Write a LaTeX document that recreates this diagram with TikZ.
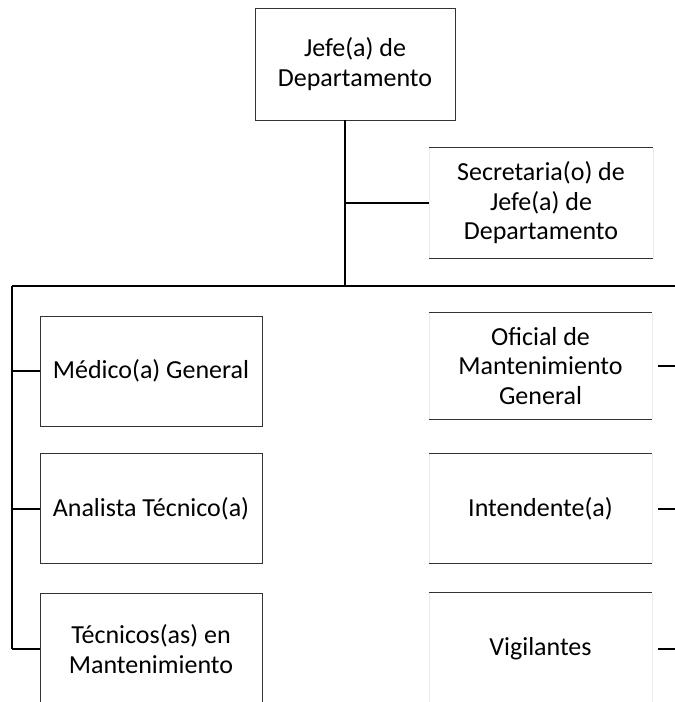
\documentclass[tikz,border=0pt]{standalone}
\usepackage{fontspec}
\setmainfont{Carlito}
\begin{document}
\begin{tikzpicture}[x=1pt,y=-1pt,
  lbl/.style={font=\fontsize{26}{29.5}\selectfont, align=center, inner sep=0pt},
  fullbox/.style={lbl, draw=black!80, line width=0.9pt, minimum width=222pt, minimum height=110pt},
  openbox/.style={lbl, minimum width=223pt, minimum height=106pt},
  faint/.style={draw=black!8, line width=0.4pt},
  edge/.style={draw=black!80, line width=0.9pt},
  conn/.style={draw=black, line width=2pt}]
\useasboundingbox (0,0) rectangle (675,702);
\clip (0,0) rectangle (675,702);
\fill[white] (0,0) rectangle (675,702);

% boxes
\node[fullbox, minimum width=200pt, minimum height=112pt] (jefe) at (355,64) {Jefe(a) de\\Departamento};
\node[openbox, minimum height=110pt] (sec) at (541,203) {Secretaria(o) de\\Jefe(a) de\\Departamento};

\node[fullbox] (med) at (151,371) {Médico(a) General};
\node[fullbox] (ana) at (151,508.5) {Analista Técnico(a)};
\node[fullbox, minimum height=112pt] (tec) at (151,649) {Técnicos(as) en\\Mantenimiento};

\node[openbox] (ofi) at (540.5,366) {Oficial de\\Mantenimiento\\General};
\node[openbox, minimum height=109pt] (int) at (540.5,508.5) {Intendente(a)};
\node[openbox, minimum height=112pt] (vig) at (540.5,649) {Vigilantes};

% open boxes: top and bottom rules, faint sides
\foreach \n in {sec,ofi,int,vig}{
  \path[faint] (\n.north west) -- (\n.south west);
  \path[faint] (\n.north east) -- (\n.south east);
  \path[edge] (\n.north west) -- (\n.north east);
  \path[edge] (\n.south west) -- (\n.south east);
}

% bus coordinates
\coordinate (trunk) at (345,286);
\coordinate (busL) at (12,286);
\coordinate (busR) at (675,286);

% connectors
\path[conn] (jefe.south -| trunk) -- (trunk);
\path[conn] (sec.west) -- (sec.west -| trunk);
\path[conn] (busL) -- (busR);
\path[conn] (busL) -- (busL |- tec.west);
\foreach \n in {med,ana,tec}{
  \path[conn] (\n.west) -- (\n.west -| busL);
}
\foreach \n in {ofi,int,vig}{
  \path[conn] ([xshift=6pt]\n.east) -- (\n.east -| busR);
}
\end{tikzpicture}
\end{document}
